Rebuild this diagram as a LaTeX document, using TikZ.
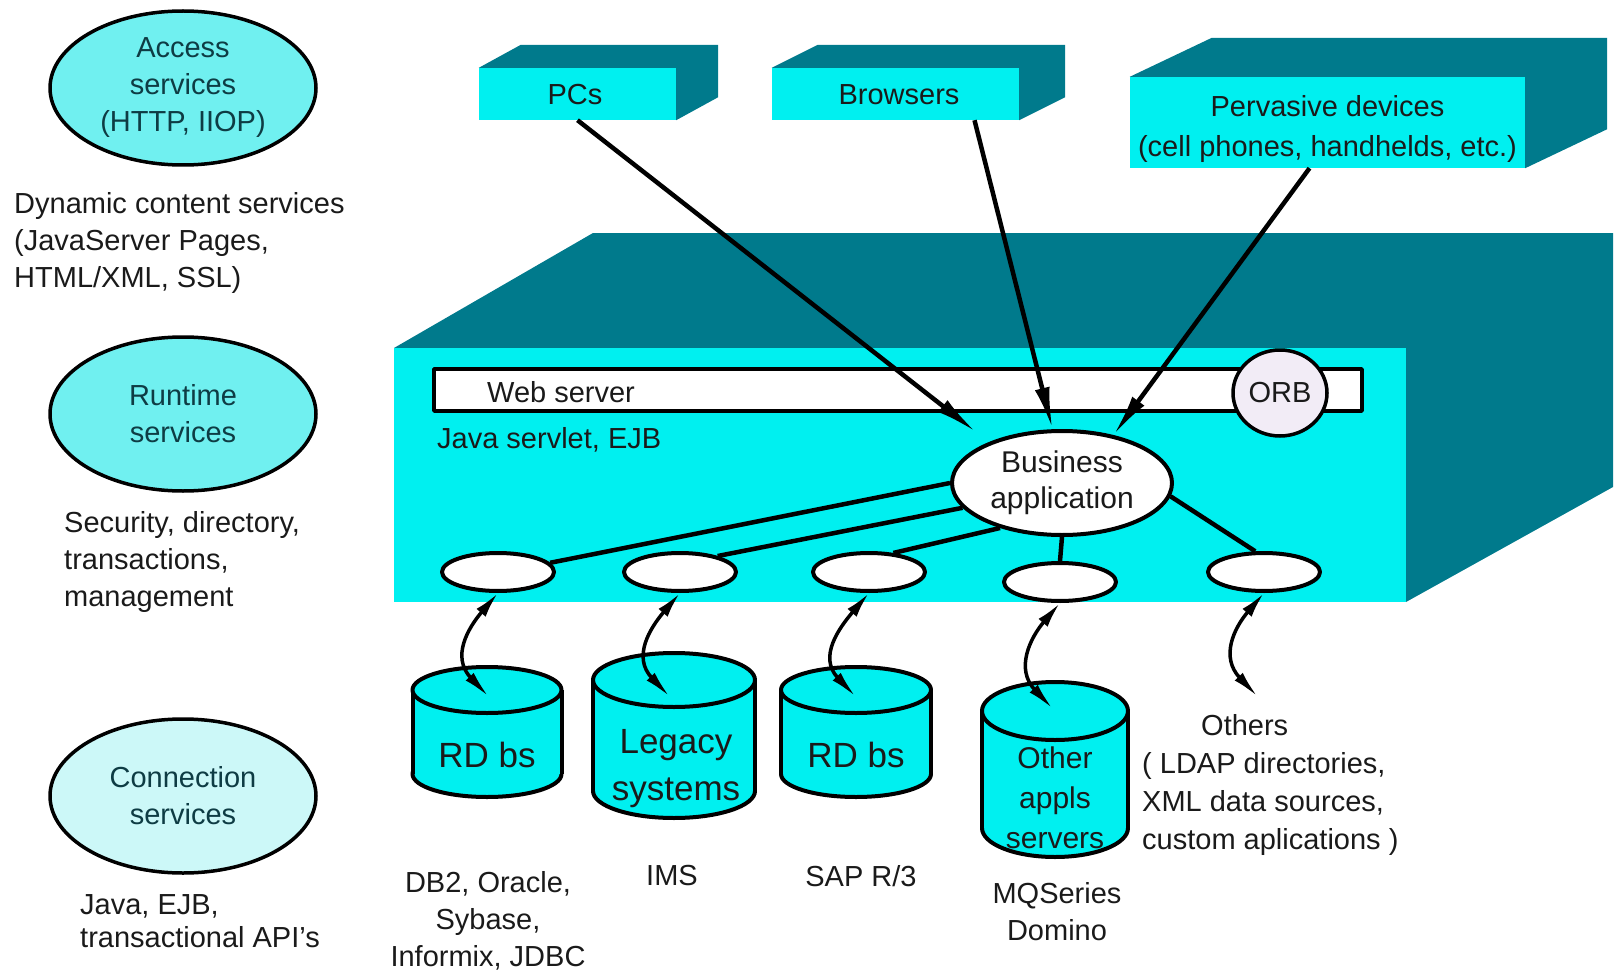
\documentclass[tikz,border=0pt]{standalone}
\usepackage{fontspec}
\setmainfont{Liberation Sans}
\usetikzlibrary{shapes.geometric,arrows.meta,calc}
\definecolor{cyanf}{HTML}{00F0F0}
\definecolor{tealf}{HTML}{007A8C}
\definecolor{lcyan}{HTML}{70F0F0}
\definecolor{pcyan}{HTML}{CCF8F8}
\definecolor{orbf}{HTML}{F2ECF6}
\definecolor{txt}{HTML}{1A1A1A}
\definecolor{etxt}{HTML}{0E3C44}
\newcommand{\boxdepth}[3]{\fill[tealf] (#1.north west) -- ([shift={(#2,#3)}]#1.north west) -- ([shift={(#2,#3)}]#1.north east) -- ([shift={(#2,#3)}]#1.south east) -- (#1.south east) -- (#1.north east) -- cycle;}
\newcommand{\dbcyl}[5]{%
  \draw[line width=4pt, fill=cyanf] (#1,#5) ellipse (#3 and #4);
  \fill[cyanf] ({#1-#3},#2) rectangle ({#1+#3},#5);
  \draw[line width=4pt] ({#1-#3},#2) -- ({#1-#3},#5);
  \draw[line width=4pt] ({#1+#3},#2) -- ({#1+#3},#5);
  \draw[line width=4pt, fill=cyanf] (#1,#2) ellipse (#3 and #4);
}
\begin{document}
\begin{tikzpicture}[x=1pt,y=-1pt, line join=round,
  every node/.style={font=\fontsize{29}{37}\selectfont, text=txt, inner sep=0pt},
  svc/.style={ellipse, draw=black, line width=3.5pt, fill=lcyan, minimum width=266pt, minimum height=154pt, align=center, text=etxt},
  box/.style={rectangle, fill=cyanf},
  slot/.style={ellipse, draw=black, line width=4pt, fill=white, minimum width=112pt, minimum height=38pt},
  link/.style={line width=4.5pt},
  arr/.style={line width=4.5pt, -{Latex[length=42pt,width=15pt]}},
  darr/.style={line width=3.5pt, {Latex[length=26pt,width=12pt]}-{Latex[length=28pt,width=11pt]}},
  rtext/.style={font=\fontsize{29}{38}\selectfont},
  cyltext/.style={font=\fontsize{35}{47}\selectfont, align=center},
]
\useasboundingbox (0,0) rectangle (1618,971);

% left column
\node[svc] (acc) at (183,88) {Access\\services\\(HTTP, IIOP)};
\node[anchor=west, align=left] (dyn) at (14,243) {Dynamic content services\\(JavaServer Pages,\\HTML/XML, SSL)};
\node[svc] (run) at (183,414) {Runtime\\services};
\node[anchor=west, align=left] (sec) at (64,562) {Security, directory,\\transactions,\\management};
\node[svc, fill=pcyan] (con) at (183,796) {Connection\\services};
\node[anchor=west, align=left, font=\fontsize{29}{33}\selectfont] (jav) at (80,921) {Java, EJB,\\transactional API's};

% client boxes
\node[box, minimum width=197pt, minimum height=52pt] (pcs) at (577.5,94) {};
\boxdepth{pcs}{42}{-23}
\node (pcst) at (575,95) {PCs};
\node[box, minimum width=247pt, minimum height=52pt] (br) at (895.5,94) {};
\boxdepth{br}{46}{-23}
\node (brt) at (899,95) {Browsers};
\node[box, minimum width=395pt, minimum height=91pt] (pv) at (1327.5,122.5) {};
\boxdepth{pv}{82}{-39}
\node[align=center, font=\fontsize{29}{40}\selectfont] (pvt) at (1327.5,129) {Pervasive devices\\(cell phones, handhelds, etc.)};

% server box
\fill[tealf] (394,348) -- (593,233) -- (1613,233) -- (1613,487) -- (1406,602) -- (1406,348) -- cycle;
\node[box, minimum width=1012pt, minimum height=254pt] (srv) at (900,475) {};
\node[rectangle, draw=black, line width=3.5pt, fill=white, minimum width=928pt, minimum height=42pt] (ws) at (898,390) {};
\node[anchor=west, rtext] (wst) at (487,392) {Web server};
\node[ellipse, draw=black, line width=3.5pt, fill=orbf, minimum width=94pt, minimum height=86pt, rtext] (orb) at (1280,393) {ORB};
\node[anchor=west, rtext] (jse) at (437,440) {Java servlet, EJB};
\node[ellipse, draw=black, line width=4pt, fill=white, minimum width=220pt, minimum height=104pt, align=center, font=\fontsize{30}{36}\selectfont] (ba) at (1062,483) {Business\\application};

\node[slot] (e1) at (498,572) {};
\node[slot] (e2) at (680,572) {};
\node[slot] (e3) at (869,572) {};
\node[slot] (e4) at (1060,582) {};
\node[slot] (e5) at (1264,572) {};

\draw[link] (ba.west) -- (e1.10);
\draw[link] (ba.194) -- (e2.23);
\draw[link] (ba.216) -- (e3.38);
\draw[link] (ba.south) -- (e4.north);
\draw[link] (ba.-7) -- (e5.113);

% arrows from clients
\coordinate (pctip) at (976,432);
\draw[arr] (pcs.south) -- (pctip);
\draw[arr] ([xshift=79pt]br.south) -- (ba.100);
\draw[arr] ([xshift=-18pt]pv.south) -- (ba.43);

% back-end stores
\dbcyl{487}{690}{74.5}{23}{774}
\dbcyl{674}{680}{81}{27}{791}
\dbcyl{856}{690}{75}{23}{774}
\dbcyl{1055}{711}{73}{29}{828}

\coordinate (c1) at (489,697);
\coordinate (c2) at (670,697);
\coordinate (c3) at (856,697);
\coordinate (c4) at (1053,709);
\coordinate (c5) at (1258,697);

\draw[darr] (e1.south) .. controls +(-30,35) and +(-38,-40) .. (c1);
\draw[darr] (e2.south) .. controls +(-30,35) and +(-38,-40) .. (c2);
\draw[darr] (e3.south) .. controls +(-30,35) and +(-38,-40) .. (c3);
\draw[darr] (e4.south) .. controls +(-30,35) and +(-38,-40) .. (c4);
\draw[darr] (e5.south) .. controls +(-30,35) and +(-38,-40) .. (c5);

\node[cyltext] (rd1) at (487,755) {RD bs};
\node[cyltext] (leg) at (676,769) {Legacy\\systems};
\node[cyltext] (rd2) at (856,755) {RD bs};
\node[align=center, font=\fontsize{30}{40}\selectfont] (oas) at (1055,798) {Other\\appls\\servers};

% labels
\node[align=center] (db2) at (488,921) {DB2, Oracle,\\Sybase,\\Informix, JDBC};
\node (ims) at (672,876) {IMS};
\node (sap) at (861,876) {SAP R/3};
\node[align=center] (mq) at (1057,912) {MQSeries\\Domino};
\node[anchor=west, align=left, rtext] (others) at (1142,785) {\hspace*{59pt}Others\\( LDAP directories,\\XML data sources,\\custom aplications )};
\end{tikzpicture}
\end{document}
